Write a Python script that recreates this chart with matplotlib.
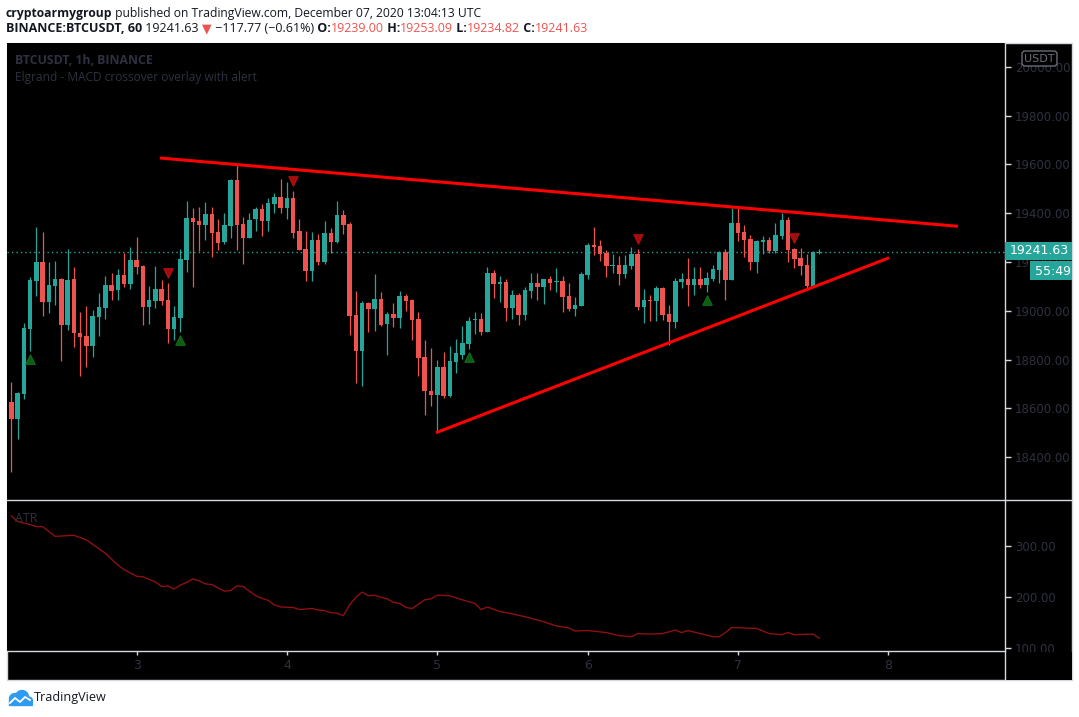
import matplotlib
matplotlib.use("Agg")
import matplotlib.pyplot as plt
import numpy as np
from matplotlib.patches import Rectangle, FancyBboxPatch, Circle, Polygon
from matplotlib.lines import Line2D
from matplotlib.transforms import IdentityTransform

W, H = 1079, 717

# BTCUSDT 1h candles, Dec 2 04:00 .. Dec 7 13:00 UTC
opens = [18627, 18555, 18657, 18927, 19124, 19200, 19037, 19102, 19131, 18943,
         19131, 18909, 18898, 18857, 18976, 19012, 19106, 19086, 19147, 19110,
         19208, 19184, 19016, 19041, 19090, 19045, 18927, 18971, 19208, 19380,
         19367, 19351, 19396, 19322, 19282, 19347, 19535, 19355, 19298, 19375,
         19416, 19367, 19437, 19465, 19420, 19461, 19327, 19253, 19163, 19290,
         19200, 19318, 19282, 19392, 19355, 18984, 18837, 19033, 19008, 19049,
         18947, 18988, 18971, 19061, 19045, 18967, 18812, 18673, 18653, 18771,
         18649, 18792, 18820, 18865, 18963, 18967, 18914, 19155, 19110, 19118,
         19012, 19065, 18984, 19082, 19114, 19098, 19131, 19118, 19122, 19061,
         19008, 19020, 19147, 19269, 19265, 19237, 19184, 19188, 19151, 19184,
         19233, 19016, 19045, 19041, 19094, 18988, 18955, 19118, 19131, 19106,
         19131, 19106, 19131, 19167, 19241, 19127, 19359, 19322, 19294, 19200,
         19282, 19290, 19245, 19306, 19371, 19253, 19216, 19188, 19102, 19239.00]
highs = [18708, 18668, 18948, 19139, 19343, 19322, 19200, 19204, 19136, 19253,
         19180, 18996, 19020, 19004, 19073, 19143, 19155, 19171, 19237, 19261,
         19302, 19188, 19102, 19184, 19127, 19114, 19020, 19253, 19449, 19420,
         19424, 19445, 19424, 19375, 19400, 19540, 19596, 19384, 19400, 19424,
         19437, 19461, 19482, 19539, 19527, 19490, 19375, 19327, 19322, 19314,
         19367, 19339, 19449, 19412, 19363, 19082, 19040, 19037, 19151, 19078,
         18996, 19033, 19082, 19069, 19049, 18996, 18882, 18849, 18800, 18829,
         18857, 18886, 18939, 18976, 18996, 18992, 19180, 19167, 19143, 19131,
         19086, 19073, 19098, 19155, 19155, 19131, 19143, 19176, 19143, 19114,
         19057, 19159, 19278, 19343, 19290, 19249, 19233, 19224, 19229, 19261,
         19253, 19090, 19065, 19102, 19098, 19024, 19135, 19155, 19216, 19180,
         19180, 19159, 19188, 19245, 19253, 19420, 19420, 19351, 19310, 19290,
         19306, 19302, 19359, 19400, 19384, 19257, 19257, 19233, 19245, 19253.09]
lows = [18340, 18474, 18637, 18837, 19061, 18980, 18992, 19024, 18796, 18922,
        18853, 18731, 18771, 18812, 18898, 18967, 19045, 19045, 19098, 19090,
        19151, 18943, 18947, 19012, 19024, 18869, 18882, 18914, 19159, 19098,
        19245, 19290, 19220, 19249, 19273, 19298, 19249, 19192, 19298, 19327,
        19306, 19327, 19400, 19400, 19375, 19298, 19249, 19122, 19122, 19188,
        19192, 19237, 19278, 19314, 18902, 18702, 18690, 18914, 18918, 18939,
        18820, 18935, 18931, 19000, 18882, 18731, 18571, 18608, 18502, 18641,
        18645, 18743, 18804, 18845, 18906, 18902, 18914, 19053, 19037, 18959,
        18967, 18943, 18963, 19053, 19045, 19029, 19086, 19078, 18996, 19000,
        18980, 19020, 19131, 19229, 19204, 19139, 19155, 19106, 19135, 19171,
        19004, 18951, 18959, 18959, 18963, 18861, 18931, 19094, 19020, 19065,
        19094, 19078, 19122, 19114, 19045, 19127, 19286, 19220, 19167, 19155,
        19233, 19237, 19237, 19294, 19200, 19176, 19147, 19090, 19098, 19234.82]
closes = [18555, 18661, 18931, 19127, 19200, 19037, 19106, 19131, 18943, 19127,
          18910, 18894, 18857, 18980, 19016, 19106, 19082, 19147, 19110, 19208,
          19180, 19016, 19045, 19090, 19041, 18927, 18976, 19212, 19380, 19363,
          19351, 19396, 19318, 19278, 19351, 19535, 19351, 19298, 19371, 19416,
          19367, 19441, 19465, 19420, 19461, 19318, 19249, 19163, 19290, 19200,
          19318, 19282, 19392, 19351, 18980, 18837, 19033, 19008, 19049, 18943,
          18988, 18971, 19061, 19041, 18963, 18808, 18669, 18653, 18771, 18649,
          18796, 18825, 18869, 18959, 18967, 18914, 19155, 19110, 19118, 19012,
          19065, 18984, 19086, 19114, 19098, 19131, 19114, 19122, 19057, 19008,
          19024, 19151, 19269, 19261, 19233, 19184, 19188, 19151, 19188, 19233,
          19016, 19045, 19041, 19094, 18984, 18955, 19122, 19131, 19106, 19131,
          19106, 19135, 19171, 19241, 19127, 19359, 19318, 19290, 19200, 19286,
          19290, 19245, 19310, 19371, 19249, 19212, 19184, 19102, 19241, 19241.63]

# MACD crossover signals (candle number, marker price)
buy_idx = [3, 27, 73, 111]
buy_px = [18804, 18880, 18810, 19043]
sell_idx = [25, 45, 100, 125]
sell_px = [19155, 19533, 19296, 19300]

# hand drawn triangle (hours from Dec 3 00:00, price)
upper_h = [3.95, 130.9]
upper_px = [19626, 19347]
lower_h = [48.0, 119.9]
lower_px = [18502, 19215]

# ATR(14) line (candle number, value)
atr_idx = [0, 1, 3, 4, 5, 7, 10, 12, 15, 17, 18, 20, 21, 23, 24, 25, 26, 27, 28, 29,
           30, 31, 32, 33, 34, 35, 36, 37, 38, 39, 40, 41, 42, 43, 45, 46, 48, 49, 50, 51,
           52, 53, 54, 55, 56, 57, 58, 59, 60, 61, 62, 63, 64, 66, 67, 68, 70, 72, 74, 75,
           76, 78, 79, 82, 85, 87, 89, 90, 92, 95, 97, 99, 100, 102, 104, 106, 107, 108, 110, 112,
           113, 114, 115, 117, 119, 121, 123, 124, 125, 128, 129]
atr_val = [358, 347, 341, 337, 337, 318, 320, 311, 285, 262, 253, 240, 239, 229, 220, 221, 215, 223, 228, 235,
           231, 225, 224, 217, 211, 212, 221, 220, 211, 202, 197, 193, 184, 180, 179, 175, 177, 174, 173, 169,
           168, 163, 184, 199, 209, 202, 203, 199, 196, 189, 187, 179, 177, 194, 196, 203, 202, 194, 187, 175,
           180, 171, 169, 161, 151, 143, 139, 133, 134, 130, 124, 122, 128, 127, 128, 135, 130, 134, 128, 122,
           122, 130, 140, 139, 138, 128, 126, 130, 126, 127, 119]

price_ticks = [18400, 18600, 18800, 19000, 19200, 19400, 19600, 19800, 20000]
atr_ticks = [100, 200, 300]
day_hours = [0, 24, 48, 72, 96, 120]
day_labels = ["3", "4", "5", "6", "7", "8"]

UP, DN = "#26a69a", "#ef5350"
LINE = "#d6d8de"
DIM = "#2e3140"
DARK = "#131722"
FAM = ["Open Sans", "DejaVu Sans"]

X0, X1 = -20.69, 138.64
first_hour = -20


def fbox(x0, y0, x1, y1):
    return [x0 / W, 1 - y1 / H, (x1 - x0) / W, (y1 - y0) / H]


def rect(x0, y0, x1, y1, **kw):
    fig.patches.append(Rectangle((x0 / W, 1 - y1 / H), (x1 - x0) / W, (y1 - y0) / H,
                                 transform=fig.transFigure, **kw))


def hline(y, x0, x1):
    fig.add_artist(Line2D([x0 / W, x1 / W], [1 - y / H] * 2, color=LINE, lw=1,
                          transform=fig.transFigure, zorder=4))


def text_runs(x, y, runs, size):
    r = fig.canvas.get_renderer()
    for s, color, weight in runs:
        t = fig.text(x / W, 1 - y / H, s, color=color, fontweight=weight, fontsize=size,
                     va="center", ha="left", family=FAM)
        x += t.get_window_extent(renderer=r).width


fig = plt.figure(figsize=(W / 100, H / 100), dpi=100, facecolor="white")
rect(7, 43, 1072, 680, facecolor="black", edgecolor=LINE, lw=1, zorder=-1)

o, h, l, c = (np.array(a, dtype=float) for a in (opens, highs, lows, closes))
hrs = np.arange(len(o)) + first_hour
col = np.where(c >= o, UP, DN)

# --- price pane
ax = fig.add_axes(fbox(7, 43.3, 1005, 500))
ax.set_facecolor("black")
ax.set_xlim(X0, X1)
ax.set_ylim(18224, 20097)
ax.vlines(hrs, l, h, colors=col, lw=0.9, zorder=2)
ax.bar(hrs, np.maximum(np.abs(c - o), 4), bottom=np.minimum(o, c), width=0.72,
       color=col, lw=0, zorder=3)
ax.axhline(c[-1], color=UP, lw=1, ls=(0, (1, 2.2)), zorder=1)
ax.scatter(np.array(buy_idx) + first_hour, buy_px, marker="^", s=48,
           color="#0b5e12", edgecolors="#137a1c", lw=0.6, zorder=4)
ax.scatter(np.array(sell_idx) + first_hour, sell_px, marker="v", s=48,
           color="#a30d0d", edgecolors="#c21010", lw=0.6, zorder=4)
ax.plot(upper_h, upper_px, color="#ff0000", lw=2.2, zorder=5)
ax.plot(lower_h, lower_px, color="#ff0000", lw=2.2, zorder=5)

ax.set_xticks([])
ax.set_yticks(price_ticks)
ax.set_yticklabels([f"{v:.2f}" for v in price_ticks])
ax.yaxis.tick_right()
ax.tick_params(axis="y", length=4, width=1, color=LINE, labelcolor=DIM,
               labelsize=8.5, pad=3)
for s in ax.spines.values():
    s.set_visible(False)

# --- ATR pane
ax2 = fig.add_axes(fbox(7, 500, 1005, 651))
ax2.set_facecolor("black")
ax2.set_xlim(X0, X1)
ax2.set_ylim(94, 389)
ax2.plot(np.array(atr_idx) + first_hour, atr_val, color="#8e1010", lw=1)
ax2.set_xticks([])
ax2.set_yticks(atr_ticks)
ax2.set_yticklabels([f"{v:.2f}" for v in atr_ticks])
ax2.yaxis.tick_right()
ax2.tick_params(axis="y", length=4, width=1, color=LINE, labelcolor=DIM,
                labelsize=8.5, pad=3)
for s in ax2.spines.values():
    s.set_visible(False)

# --- time axis
ax3 = fig.add_axes(fbox(7, 651, 1005, 680))
ax3.set_facecolor("black")
ax3.set_xlim(X0, X1)
ax3.set_ylim(0, 1)
ax3.vlines(day_hours, 0.86, 1.0, color=LINE, lw=1)
for d, lab in zip(day_hours, day_labels):
    ax3.text(d, 0.5, lab, color=DIM, fontsize=9, ha="center", va="center")
ax3.axis("off")
rect(1005.5, 651.5, 1071.5, 679.5, facecolor="black", lw=0, zorder=3)

# frame lines
fig.add_artist(Line2D([1005 / W] * 2, [1 - 43 / H, 1 - 680 / H], color=LINE, lw=1,
                      transform=fig.transFigure, zorder=4))
hline(500, 7, 1072)
hline(651, 7, 1005)

# last price + countdown labels
rect(1005, 242, 1072, 260, facecolor=UP, lw=0, zorder=5)
fig.text(1010 / W, 1 - 251 / H, f"{c[-1]:.2f}", color="white", fontsize=9,
         va="center", ha="left", zorder=6)
rect(1030, 261, 1072, 280, facecolor=UP, lw=0, zorder=5)
fig.text(1035 / W, 1 - 271 / H, "55:49", color="white", fontsize=9,
         va="center", ha="left", zorder=6)

# currency badge
fig.patches.append(FancyBboxPatch((1022, H - 66), 35, 15,
                                  boxstyle="round,pad=0,rounding_size=3",
                                  transform=IdentityTransform(), facecolor="black",
                                  edgecolor="#6a6d78", lw=1, zorder=5))
fig.text(1039.5 / W, 1 - 58.5 / H, "USDT", color="#6a6d78", fontsize=8,
         ha="center", va="center", zorder=6)

# pane captions
fig.text(15 / W, 1 - 61 / H, "BTCUSDT, 1h, BINANCE", color=DIM, fontsize=8.8,
         fontweight="bold", va="center", family=FAM)
fig.text(15 / W, 1 - 77 / H, "Elgrand - MACD crossover overlay with alert", color=DIM,
         fontsize=8.6, va="center", family=FAM)
fig.text(15 / W, 1 - 518 / H, "ATR", color=DIM, fontsize=9, va="center", family=FAM)

# header
text_runs(6, 13, [("cryptoarmygroup", DARK, "bold"),
                  (" published on TradingView.com, December 07, 2020 13:04:13 UTC", DARK, "normal")], 8.7)
text_runs(6, 29, [("BINANCE:BTCUSDT, 60", DARK, "bold"),
                  (" 19241.63 ", DARK, "normal"),
                  ("\u25bc", DN, "normal"),
                  (" \u2212117.77 (\u22120.61%)", DARK, "normal"),
                  (" O:", DARK, "bold"), ("19239.00", DN, "normal"),
                  (" H:", DARK, "bold"), ("19253.09", DN, "normal"),
                  (" L:", DARK, "bold"), ("19234.82", DN, "normal"),
                  (" C:", DARK, "bold"), ("19241.63", DN, "normal")], 9.0)

# TradingView logo
lax = fig.add_axes(fbox(6, 689, 33, 708))
lax.set_xlim(0, 27)
lax.set_ylim(0, 19)
lax.set_aspect("auto")
blue = "#2e9bf0"
lax.add_patch(Circle((9, 9), 5.5, color=blue))
lax.add_patch(Circle((16, 11), 6.5, color=blue))
lax.add_patch(Polygon([(3, 3), (26, 3), (26, 8), (3, 8)], color=blue))
lax.add_patch(Circle((22.5, 7), 4, color=blue))
lax.plot([4, 9, 14, 19, 24], [5, 10, 6, 11, 8], color="white", lw=1.3)
lax.axis("off")
fig.text(34 / W, 1 - 698 / H, "TradingView", color=DARK, fontsize=9.1, va="center",
         family=FAM)

fig.savefig("out.png", dpi=100, facecolor=fig.get_facecolor())
